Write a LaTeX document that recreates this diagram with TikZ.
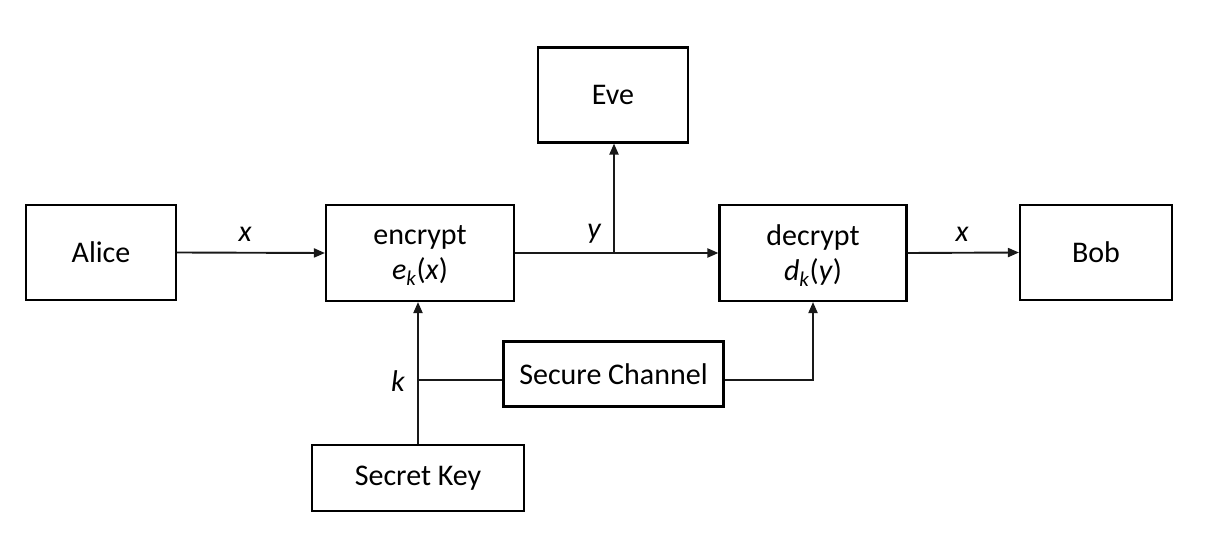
\documentclass[tikz,border=0pt]{standalone}
\usepackage{fontspec}
\setmainfont{Carlito}
\usetikzlibrary{arrows.meta}
\begin{document}
\begin{tikzpicture}[x=1pt,y=-1pt,
  box/.style={draw=black,line width=2.1pt,inner sep=0pt,align=center,font=\fontsize{30}{35}\selectfont},
  conn/.style={line width=1.9pt,draw=black!90},
  arr/.style={conn,-{Triangle[length=11pt,width=9pt]}},
  lbl/.style={font=\fontsize{30}{34}\selectfont\itshape,inner sep=0pt}]
\useasboundingbox (0,0) rectangle (1206,534);
\node[box,minimum width=150pt,minimum height=95pt] (alice) at (101,252.5) {Alice};
\node[box,minimum width=188pt,minimum height=96pt,text depth=-4pt] (enc) at (420,253) {encrypt\\\textit{e}\textsubscript{\textit{k}}(\textit{x})};
\node[box,minimum width=150pt,minimum height=95pt] (eve) at (613,95) {Eve};
\node[box,minimum width=187pt,minimum height=96pt,text depth=-4pt] (dec) at (813,253) {decrypt\\\textit{d}\textsubscript{\textit{k}}(\textit{y})};
\node[box,minimum width=152pt,minimum height=95pt] (bob) at (1096,252.5) {Bob};
\node[box,minimum width=220pt,minimum height=65pt] (sc) at (613.5,374) {Secure Channel};
\node[box,minimum width=212pt,minimum height=66pt] (key) at (418,478) {Secret Key};
\coordinate (j) at (614,252.5);
\coordinate (kj) at (419,380);
\draw[arr] (alice.east) -- (enc.west);
\draw[arr] (enc.east) -- (dec.west);
\draw[arr] (j) -- (j |- eve.south);
\draw[arr] (dec.east) -- (bob.west);
\draw[arr] (key.north) -- (key.north |- enc.south);
\draw[conn] (kj) -- (kj -| sc.west);
\draw[arr] (kj -| sc.east) -| (dec.south);
\node[lbl] (lx1) at (245,234) {x};
\node[lbl] (ly) at (594,234) {y};
\node[lbl] (lx2) at (962,234) {x};
\node[lbl] (lk) at (398,381) {k};
\end{tikzpicture}
\end{document}
